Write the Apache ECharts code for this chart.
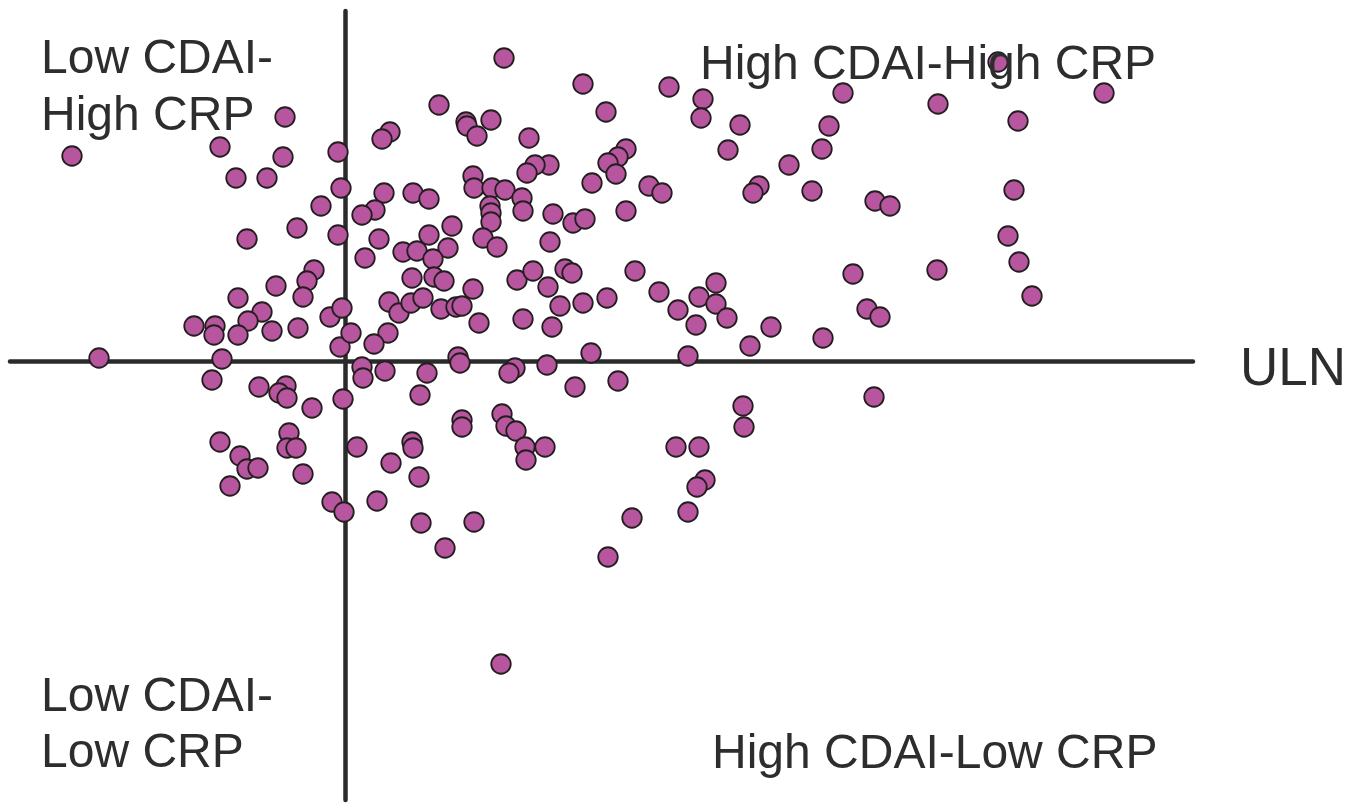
<!DOCTYPE html>
<html>
<head>
<meta charset="utf-8">
<script src="https://cdn.jsdelivr.net/npm/echarts@6/dist/echarts.min.js"></script>
<style>html,body{margin:0;padding:0;background:#fff}#chart{width:1353px;height:804px}</style>
</head>
<body>
<div id="chart"></div>
<script>
// Each point: [CDAI offset from cut-off, CRP offset from ULN] (arbitrary units)
const upperLeft = [
  [-27.3,20.5],[-6.0,24.4],[-12.5,21.4],[-6.2,20.4],[-10.9,18.3],[-7.8,18.3],[-0.7,20.9],[-0.4,17.3],
  [-2.4,15.5],[-4.8,13.3],[-0.7,12.6],[-9.8,12.2],[-3.1,9.1],[-3.8,8.0],[-6.9,7.5],[-10.7,6.3],
  [-4.2,6.4],[-8.3,4.9],[-9.7,4.0],[-15.1,3.5],[-13.0,3.5],[-13.1,2.6],[-10.7,2.6],[-7.3,3.0],
  [-4.7,3.3],[-1.5,4.4],[-0.3,5.3],[-0.5,1.4],[-12.3,0.2],[-24.6,0.3]
];
const upperRight = [
  [15.9,30.3],[23.8,27.7],[32.4,27.4],[35.8,26.2],[49.8,26.8],[65.3,29.9],[75.9,26.8],[59.3,25.7],
  [9.4,25.6],[26.1,24.9],[35.6,24.3],[39.5,23.6],[48.4,23.5],[67.3,24.0],[12.1,23.9],[12.2,23.5],
  [14.6,24.1],[13.2,22.5],[4.5,22.9],[3.7,22.2],[18.4,22.3],[28.1,21.2],[38.3,21.1],[47.7,21.2],
  [27.3,20.4],[26.3,19.8],[20.4,19.6],[19.0,19.6],[18.2,18.8],[27.1,18.7],[44.4,19.6],[12.8,18.5],
  [24.7,17.8],[30.4,17.5],[31.7,16.8],[41.4,17.5],[40.8,16.8],[46.7,17.0],[66.9,17.1],[3.9,16.8],
  [6.8,16.8],[8.4,16.2],[12.9,17.3],[14.7,17.3],[16.0,17.1],[17.7,16.3],[53.0,16.0],[54.5,15.5],
  [3.0,15.1],[1.7,14.6],[14.5,15.5],[14.6,14.8],[14.6,13.9],[17.8,15.0],[20.8,14.7],[22.8,13.8],
  [24.0,14.2],[28.1,15.0],[10.7,13.5],[3.4,12.2],[8.4,12.6],[13.8,12.3],[15.2,11.4],[20.5,11.9],
  [66.3,12.5],[2.0,10.3],[5.8,10.9],[7.2,11.0],[10.3,11.3],[8.8,10.2],[67.4,9.9],[6.7,8.3],
  [8.9,8.4],[9.9,8.0],[12.8,7.2],[17.2,8.1],[18.8,9.0],[22.0,9.2],[22.7,8.8],[29.0,9.0],
  [20.3,7.4],[31.4,6.9],[37.1,7.8],[35.4,6.4],[37.1,5.7],[50.8,8.7],[59.2,9.1],[68.7,6.5],
  [26.2,6.3],[23.8,5.8],[21.5,5.5],[17.8,4.2],[20.7,3.4],[13.4,3.8],[4.4,5.9],[5.4,4.8],
  [6.6,5.8],[7.8,6.3],[9.6,5.2],[11.1,5.4],[11.7,5.5],[0.6,2.8],[4.3,2.8],[2.9,1.7],
  [33.3,5.1],[35.1,3.6],[38.2,4.3],[42.6,3.4],[40.5,1.5],[34.3,0.5],[47.8,2.3],[52.2,5.2],
  [53.5,4.4],[24.6,0.8],[11.3,0.4]
];
const lowerLeft = [
  [-13.3,-1.9],[-8.6,-2.6],[-5.9,-2.5],[-6.6,-3.2],[-5.8,-3.7],[-3.3,-4.7],[-12.5,-8.1],[-10.5,-9.5],
  [-9.8,-10.8],[-8.7,-10.7],[-11.5,-12.5],[-5.6,-7.2],[-5.8,-8.7],[-4.9,-8.7],[-4.2,-11.3],[-1.3,-14.1]
];
const lowerRight = [
  [-0.2,-3.8],[-0.1,-15.1],[1.7,-0.6],[1.8,-1.7],[4.0,-1.0],[8.2,-1.2],[11.5,-0.2],[17.0,-0.7],
  [16.4,-1.2],[20.2,-0.4],[23.0,-2.6],[27.3,-2.0],[7.5,-3.4],[11.7,-5.9],[11.7,-6.6],[15.7,-5.3],
  [16.1,-6.5],[17.1,-7.0],[18.0,-8.6],[18.1,-9.9],[20.0,-8.6],[1.2,-8.6],[6.7,-8.1],[6.8,-8.7],
  [4.6,-10.2],[7.4,-11.6],[3.2,-14.0],[7.6,-16.2],[12.9,-16.1],[10.0,-18.7],[28.7,-15.7],[26.3,-19.6],
  [15.6,-30.3],[33.1,-8.6],[35.4,-8.6],[36.0,-11.9],[35.2,-12.6],[34.3,-15.1],[39.8,-4.5],[39.9,-6.6],
  [52.9,-3.6]
];
const quadrantLabels = ['Low CDAI-', 'High CRP', 'High CDAI-High CRP', 'Low CDAI-', 'Low CRP', 'High CDAI-Low CRP'];
const ulnLabel = 'ULN';

const allPoints = upperLeft.concat(upperRight, lowerLeft, lowerRight);
const FONT = '"Liberation Sans", Arial, Helvetica, sans-serif';
const TXT = '#2d2d2d';
const chart = echarts.init(document.getElementById('chart'), null, {renderer: 'canvas'});
function label(text, x, y, size) {
  return {type: 'text', x: x, y: y, silent: true, z: 10,
    style: {text: text, fill: TXT, font: size + 'px ' + FONT, textAlign: 'left', textVerticalAlign: 'middle', align: 'left', verticalAlign: 'middle'}};
}
chart.setOption({
  animation: false,
  backgroundColor: '#ffffff',
  grid: {left: 10, right: 160, top: 11, bottom: 4, containLabel: false},
  xAxis: {type: 'value', min: -33.5, max: 84.8,
    axisLine: {show: true, onZero: true, lineStyle: {color: '#2b2b2b', width: 4.5}},
    axisTick: {show: false}, axisLabel: {show: false}, splitLine: {show: false}},
  yAxis: {type: 'value', min: -43.9, max: 35.0,
    axisLine: {show: true, onZero: true, lineStyle: {color: '#2b2b2b', width: 4.5}},
    axisTick: {show: false}, axisLabel: {show: false}, splitLine: {show: false}},
  series: [{
    type: 'scatter',
    data: allPoints,
    symbol: 'circle',
    symbolSize: 19.5,
    itemStyle: {color: '#b8559f', borderColor: '#231f20', borderWidth: 1.8, opacity: 1}
  }],
  graphic: [
    label(quadrantLabels[0], 41, 60, 48),
    label(quadrantLabels[1], 41, 117, 48),
    label(quadrantLabels[2], 700, 66, 48),
    label(quadrantLabels[3], 41, 698, 48),
    label(quadrantLabels[4], 41, 754, 48),
    label(quadrantLabels[5], 712, 755, 48),
    label(ulnLabel, 1240, 370, 53)
  ]
});
</script>
</body>
</html>
